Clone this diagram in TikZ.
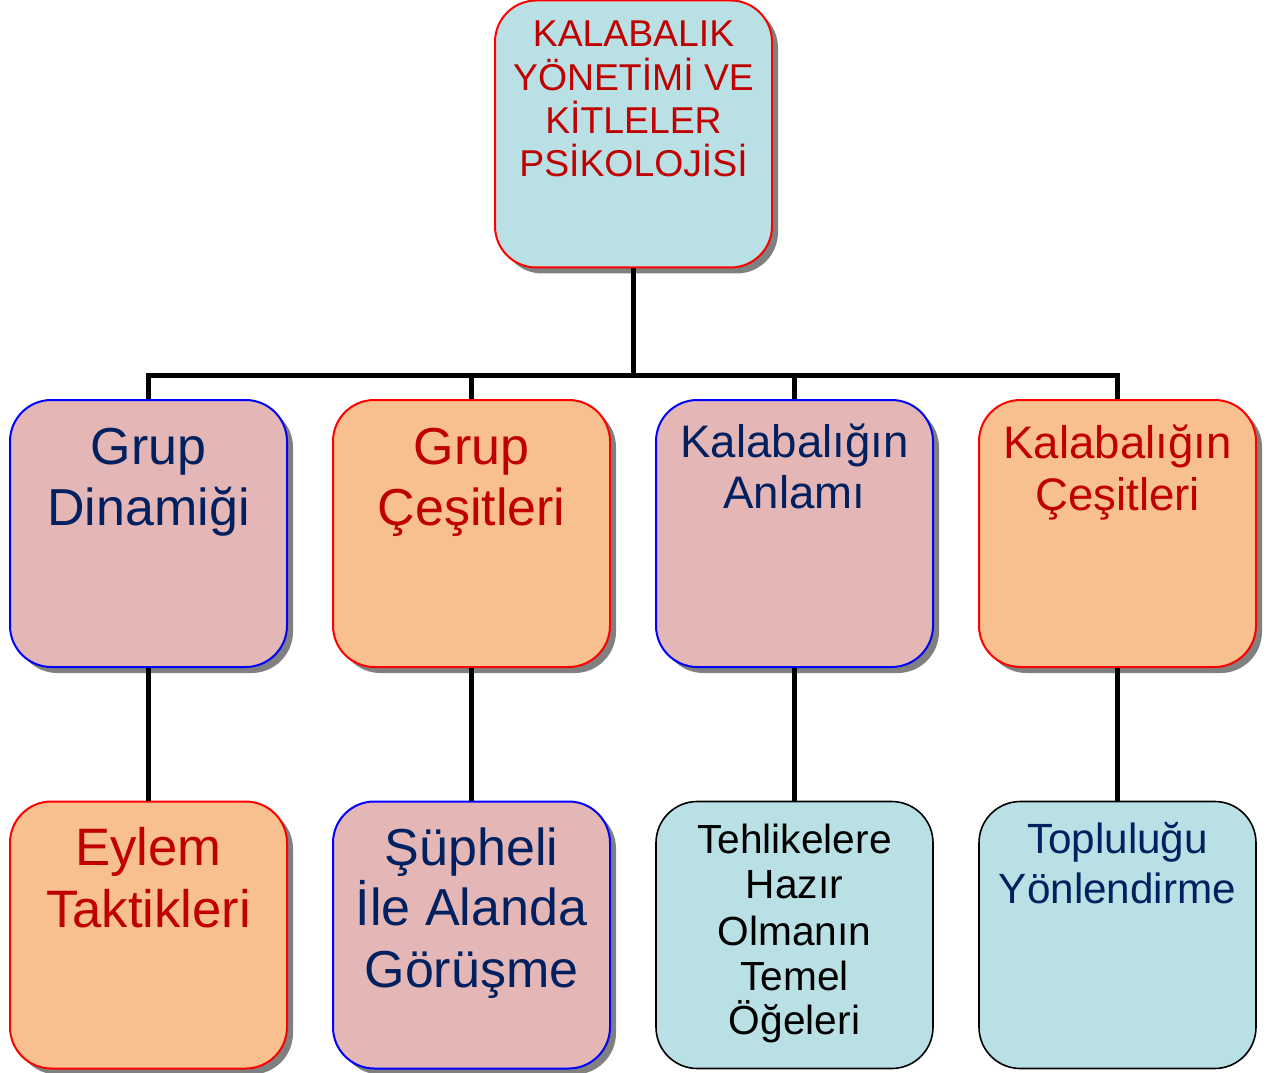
\documentclass[tikz,border=0pt]{standalone}
\usepackage{fontspec}
\setmainfont{Liberation Sans}
\usetikzlibrary{shadows}
\definecolor{lblue}{RGB}{185,224,228}
\definecolor{lpink}{RGB}{228,182,182}
\definecolor{lorange}{RGB}{248,191,143}
\definecolor{redtxt}{RGB}{192,0,0}
\definecolor{navytxt}{RGB}{0,32,96}
\definecolor{shadowgray}{RGB}{128,128,128}
\definecolor{redline}{RGB}{255,0,0}
\definecolor{blueline}{RGB}{0,0,255}
\tikzset{
  x=0.75pt, y=-0.75pt,
  box/.style={draw, rounded corners=31pt, line width=1.5pt, inner sep=0pt,
    minimum width=207.75pt, minimum height=200.25pt},
  redbox/.style={box, draw=redline},
  bluebox/.style={box, draw=blueline},
  blackbox/.style={box, draw=black, line width=1.2pt},
  shadowed/.style={drop shadow={shadow xshift=4.5pt, shadow yshift=-4.5pt,
    fill=shadowgray, opacity=1}},
  conn/.style={draw=black, line width=3.75pt, line join=miter},
  txt/.style={anchor=base, inner sep=0pt},
  fA/.style={font=\fontsize{28}{28}\selectfont},
  fB/.style={font=\fontsize{39}{39}\selectfont},
  fC/.style={font=\fontsize{34.2}{34.2}\selectfont},
  fD/.style={font=\fontsize{39.5}{39.5}\selectfont},
  fE/.style={font=\fontsize{30.5}{30.5}\selectfont},
  fF/.style={font=\fontsize{31.7}{31.7}\selectfont},
}
\begin{document}
\begin{tikzpicture}
\useasboundingbox (0,0) rectangle (1278,1073);
% boxes
\node[redbox, fill=lblue, shadowed] (top) at (633.5,134) {};
\node[bluebox, fill=lpink, shadowed] (a1) at (148.5,533.5) {};
\node[redbox, fill=lorange, shadowed] (a2) at (471.5,533.5) {};
\node[bluebox, fill=lpink, shadowed] (a3) at (794.5,533.5) {};
\node[redbox, fill=lorange, shadowed] (a4) at (1117.5,533.5) {};
\node[redbox, fill=lorange, shadowed] (b1) at (148.5,935) {};
\node[bluebox, fill=lpink, shadowed] (b2) at (471.5,935) {};
\node[blackbox, fill=lblue] (b3) at (794.5,935) {};
\node[blackbox, fill=lblue] (b4) at (1117.5,935) {};
% connectors
\coordinate (bus) at (633.5,375);
\draw[conn] (top.south) -- (bus);
\draw[conn] (a1.north) |- (bus);
\draw[conn] (a2.north) |- (bus);
\draw[conn] (a3.north) |- (bus);
\draw[conn] (a4.north) |- (bus);
\draw[conn] (a1.south) -- (b1.north);
\draw[conn] (a2.south) -- (b2.north);
\draw[conn] (a3.south) -- (b3.north);
\draw[conn] (a4.south) -- (b4.north);
% texts
\node[txt, fA, text=redtxt] (t0a) at (633.5,47) {KALABALIK};
\node[txt, fA, text=redtxt] (t0b) at (633.5,91) {YÖNETİMİ VE};
\node[txt, fA, text=redtxt] (t0c) at (633.5,134) {KİTLELER};
\node[txt, fA, text=redtxt] (t0d) at (633.5,177) {PSİKOLOJİSİ};
\node[txt, fB, text=navytxt] (t1a) at (148.5,464) {Grup};
\node[txt, fB, text=navytxt] (t1b) at (148.5,525) {Dinamiği};
\node[txt, fB, text=redtxt] (t2a) at (471.5,464) {Grup};
\node[txt, fB, text=redtxt] (t2b) at (471.5,525) {Çeşitleri};
\node[txt, fC, text=navytxt] (t3a) at (794.5,457) {Kalabalığın};
\node[txt, fC, text=navytxt] (t3b) at (794.5,508) {Anlamı};
\node[txt, fC, text=redtxt] (t4a) at (1117.5,458) {Kalabalığın};
\node[txt, fC, text=redtxt] (t4b) at (1117.5,510) {Çeşitleri};
\node[txt, fD, text=redtxt] (t5a) at (148.5,865) {Eylem};
\node[txt, fD, text=redtxt] (t5b) at (148.5,927) {Taktikleri};
\node[txt, fB, text=navytxt] (t6a) at (471.5,865) {Şüpheli};
\node[txt, fB, text=navytxt] (t6b) at (471.5,925) {İle Alanda};
\node[txt, fB, text=navytxt] (t6c) at (471.5,987) {Görüşme};
\node[txt, fE, text=black] (t7a) at (794.5,853) {Tehlikelere};
\node[txt, fE, text=black] (t7b) at (794.5,898) {Hazır};
\node[txt, fE, text=black] (t7c) at (794.5,945) {Olmanın};
\node[txt, fE, text=black] (t7d) at (794.5,990) {Temel};
\node[txt, fE, text=black] (t7e) at (794.5,1034) {Öğeleri};
\node[txt, fF, text=navytxt] (t8a) at (1117.5,853) {Topluluğu};
\node[txt, fF, text=navytxt] (t8b) at (1117.5,903) {Yönlendirme};
\end{tikzpicture}
\end{document}
